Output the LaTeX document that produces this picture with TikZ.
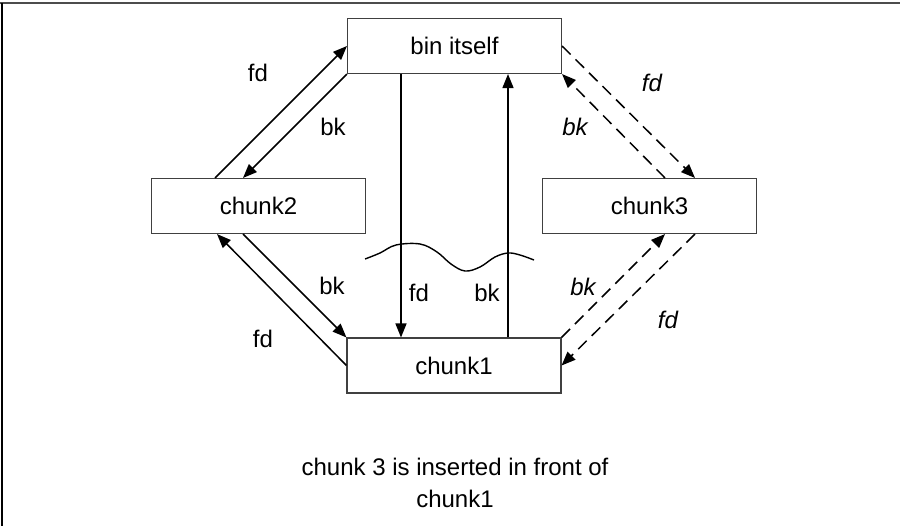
\documentclass[tikz,border=0pt]{standalone}
\usepackage{fontspec}
\setmainfont{Liberation Sans}
\usetikzlibrary{arrows.meta}
\begin{document}
\begin{tikzpicture}[x=0.5pt,y=-0.5pt,
  font=\fontsize{12}{14}\selectfont,
  box/.style={draw=black!75,line width=0.55pt,minimum width=107pt,minimum height=27.5pt,inner sep=0pt,fill=white},
  link/.style={line width=0.75pt,-{Triangle[length=7pt,width=5.5pt]}},
  dlink/.style={link,dash pattern=on 6pt off 3.5pt},
  lbl/.style={inner sep=0pt},
  ilbl/.style={inner sep=0pt,font=\fontsize{12}{14}\selectfont\itshape}]
\useasboundingbox (0,0) rectangle (900,526);
\fill[white] (0,0) rectangle (900,526);
\draw[line width=1pt,black!70] (0,3) -- (900,3);
\draw[line width=0.8pt,black] (2,3) -- (2,526);

\node[box] (bin) at (454.5,46) {bin itself};
\node[box] (chunk2) at (258.5,206) {chunk2};
\node[box] (chunk3) at (649.5,206) {chunk3};
\node[box] (chunk1) at (454,365.5) {chunk1};

% left upper
\draw[link] ([xshift=-21.75pt]chunk2.north) -- (bin.west);
\draw[link] (bin.south west) -- ([xshift=-7.75pt]chunk2.north);
% left lower
\draw[link] ([xshift=-7.75pt]chunk2.south) -- (chunk1.north west);
\draw[link] (chunk1.west) -- ([xshift=-20.75pt]chunk2.south);
% vertical
\draw[link] ([xshift=-26.75pt]bin.south) -- ([xshift=-26.75pt]bin.south |- chunk1.north);
\draw[link] ([xshift=26.75pt]bin.south |- chunk1.north) -- ([xshift=26.75pt]bin.south);
% right upper
\draw[dlink] (bin.east) -- ([xshift=22.75pt]chunk3.north);
\draw[dlink] ([xshift=7.75pt]chunk3.north) -- (bin.south east);
% right lower
\draw[dlink] (chunk1.north east) -- ([xshift=7.75pt]chunk3.south);
\draw[dlink] ([xshift=22.75pt]chunk3.south) -- (chunk1.east);

% wavy break line
\draw[line width=0.7pt] plot[smooth,tension=0.6] coordinates {(365,259) (380,253) (396,245) (420,244) (437,252) (451,264) (465,271) (480,267) (495,257) (508,253) (520,255) (534,260)};

% labels
\node[lbl] (l1) at (258,73) {fd};
\node[lbl] (l2) at (333,127) {bk};
\node[lbl] (l3) at (332,286) {bk};
\node[lbl] (l4) at (263,339) {fd};
\node[lbl] (l5) at (419,293) {fd};
\node[lbl] (l6) at (487,293) {bk};
\node[ilbl] (l7) at (652,83) {fd};
\node[ilbl] (l8) at (575,127) {bk};
\node[ilbl] (l9) at (583,287) {bk};
\node[ilbl] (l10) at (668,320) {fd};

\node[lbl,align=center] (cap) at (455,483) {chunk 3 is inserted in front of\\[2pt]chunk1};
\end{tikzpicture}
\end{document}
